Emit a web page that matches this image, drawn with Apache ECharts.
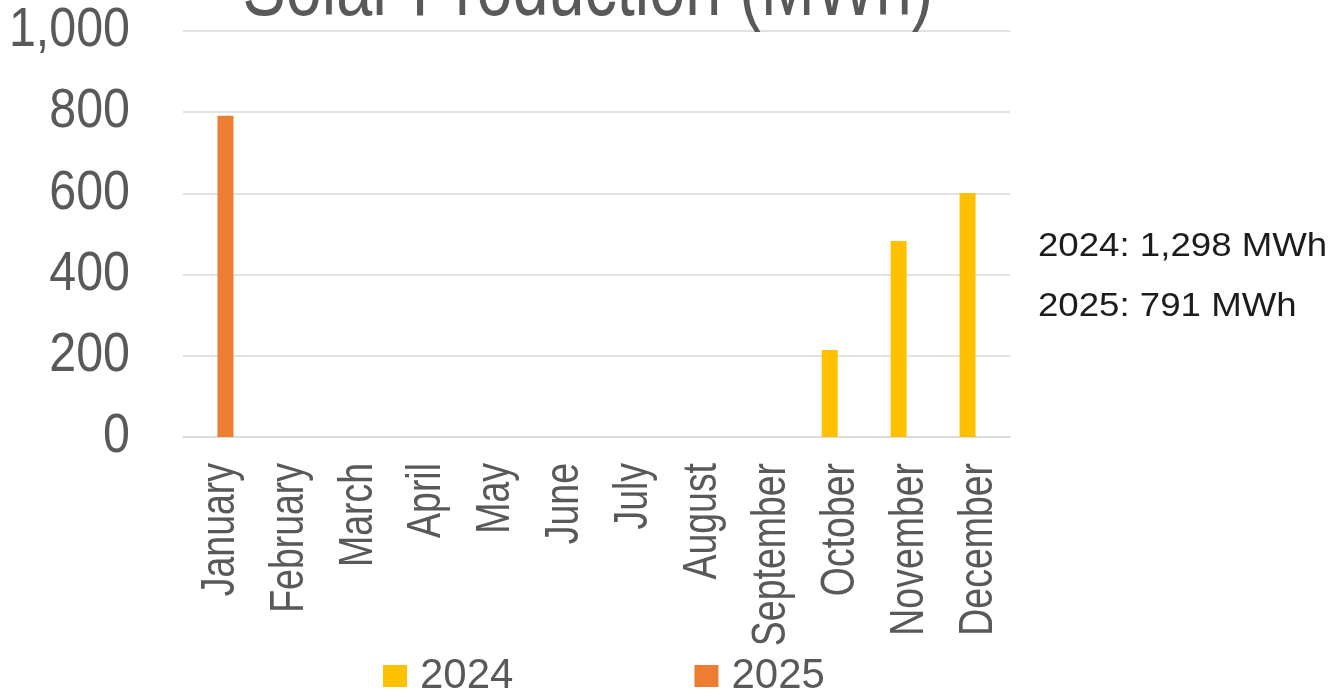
<!DOCTYPE html>
<html>
<head>
<meta charset="utf-8">
<title>Solar Production (MWh)</title>
<script src="https://cdn.jsdelivr.net/npm/echarts@6/dist/echarts.min.js"></script>
<style>
  html, body { margin: 0; padding: 0; background: #ffffff; }
  #chart { width: 1335px; height: 697px; }
</style>
</head>
<body>
<div id="chart"></div>
<script>
// Monthly solar production in MWh
const months = ['January', 'February', 'March', 'April', 'May', 'June',
  'July', 'August', 'September', 'October', 'November', 'December'];
const production2024 = [null, null, null, null, null, null, null, null, null, 214, 483, 601];
const production2025 = [791, null, null, null, null, null, null, null, null, null, null, null];
const yearNames = ['2024', '2025'];
const yTickValues = [0, 200, 400, 600, 800, 1000];
const totals = ['2024: 1,298 MWh', '2025: 791 MWh'];

const SANS = '"Liberation Sans", Arial, sans-serif';
const GRAY = '#595959';
const GRID_LINE = '#d9d9d9';

const chart = echarts.init(document.getElementById('chart'), null, { renderer: 'canvas' });

chart.setOption({
  backgroundColor: '#ffffff',
  animation: false,
  grid: { left: 183, right: 325, top: 31, bottom: 260, containLabel: false, outerBoundsMode: 'none' },
  xAxis: {
    type: 'category',
    data: months,
    axisTick: { show: false },
    axisLine: { show: true, lineStyle: { color: GRID_LINE, width: 1.5 } },
    axisLabel: { show: false }
  },
  yAxis: {
    type: 'value',
    min: yTickValues[0],
    max: yTickValues[yTickValues.length - 1],
    interval: yTickValues[1] - yTickValues[0],
    axisLine: { show: false },
    axisTick: { show: false },
    splitLine: { lineStyle: { color: GRID_LINE, width: 1.5 } },
    axisLabel: { show: false }
  },
  legend: {
    data: yearNames,
    left: 383,
    top: 655,
    padding: 0,
    itemWidth: 24,
    itemHeight: 22,
    itemGap: 181,
    icon: 'rect',
    textStyle: {
      color: GRAY,
      fontFamily: SANS,
      fontSize: 42,
      padding: [0, 0, 0, 8]
    }
  },
  series: [
    {
      name: yearNames[0],
      type: 'bar',
      data: production2024,
      barWidth: 16,
      barGap: '0%',
      itemStyle: { color: '#FFC000' }
    },
    {
      name: yearNames[1],
      type: 'bar',
      data: production2025,
      barWidth: 16,
      barGap: '0%',
      itemStyle: { color: '#ED7D31' }
    }
  ]
});

// Axis labels are set in a condensed face: plain text squeezed along its run,
// placed at the pixel positions reported by the chart's own axes.
const labelGraphics = [];
const gridLeft = chart.convertToPixel({ xAxisIndex: 0 }, months[0]) -
  (chart.convertToPixel({ xAxisIndex: 0 }, months[1]) - chart.convertToPixel({ xAxisIndex: 0 }, months[0])) / 2;
const axisY = chart.convertToPixel({ yAxisIndex: 0 }, 0);

yTickValues.forEach((v, i) => {
  labelGraphics.push({
    type: 'text',
    id: 'ylab' + i,
    x: gridLeft - 53,
    y: chart.convertToPixel({ yAxisIndex: 0 }, v),
    scaleX: 0.88,
    style: {
      text: v.toLocaleString('en-US'),
      font: '55px ' + SANS,
      fill: GRAY,
      align: 'right',
      verticalAlign: 'middle'
    }
  });
});

months.forEach((m, i) => {
  labelGraphics.push({
    type: 'text',
    id: 'xlab' + i,
    x: chart.convertToPixel({ xAxisIndex: 0 }, m) + 3,
    y: axisY + 26,
    rotation: Math.PI / 2,
    scaleX: 0.78,
    style: {
      text: m,
      font: '48px ' + SANS,
      fill: GRAY,
      align: 'right',
      verticalAlign: 'middle'
    }
  });
});

labelGraphics.push(
  {
    type: 'text',
    id: 'title',
    x: 588,
    y: -8,
    scaleX: 0.78,
    style: {
      text: 'Solar Production (MWh)',
      font: '83px ' + SANS,
      fill: GRAY,
      align: 'center',
      verticalAlign: 'middle'
    }
  },
  {
    type: 'text',
    id: 'total2024',
    x: 1038,
    y: 247,
    scaleX: 1.11,
    style: {
      text: totals[0],
      font: '33px ' + SANS,
      fill: '#1c1c1c',
      align: 'left',
      verticalAlign: 'middle'
    }
  },
  {
    type: 'text',
    id: 'total2025',
    x: 1038,
    y: 307,
    scaleX: 1.11,
    style: {
      text: totals[1],
      font: '33px ' + SANS,
      fill: '#1c1c1c',
      align: 'left',
      verticalAlign: 'middle'
    }
  }
);

chart.setOption({ graphic: labelGraphics });
</script>
</body>
</html>
